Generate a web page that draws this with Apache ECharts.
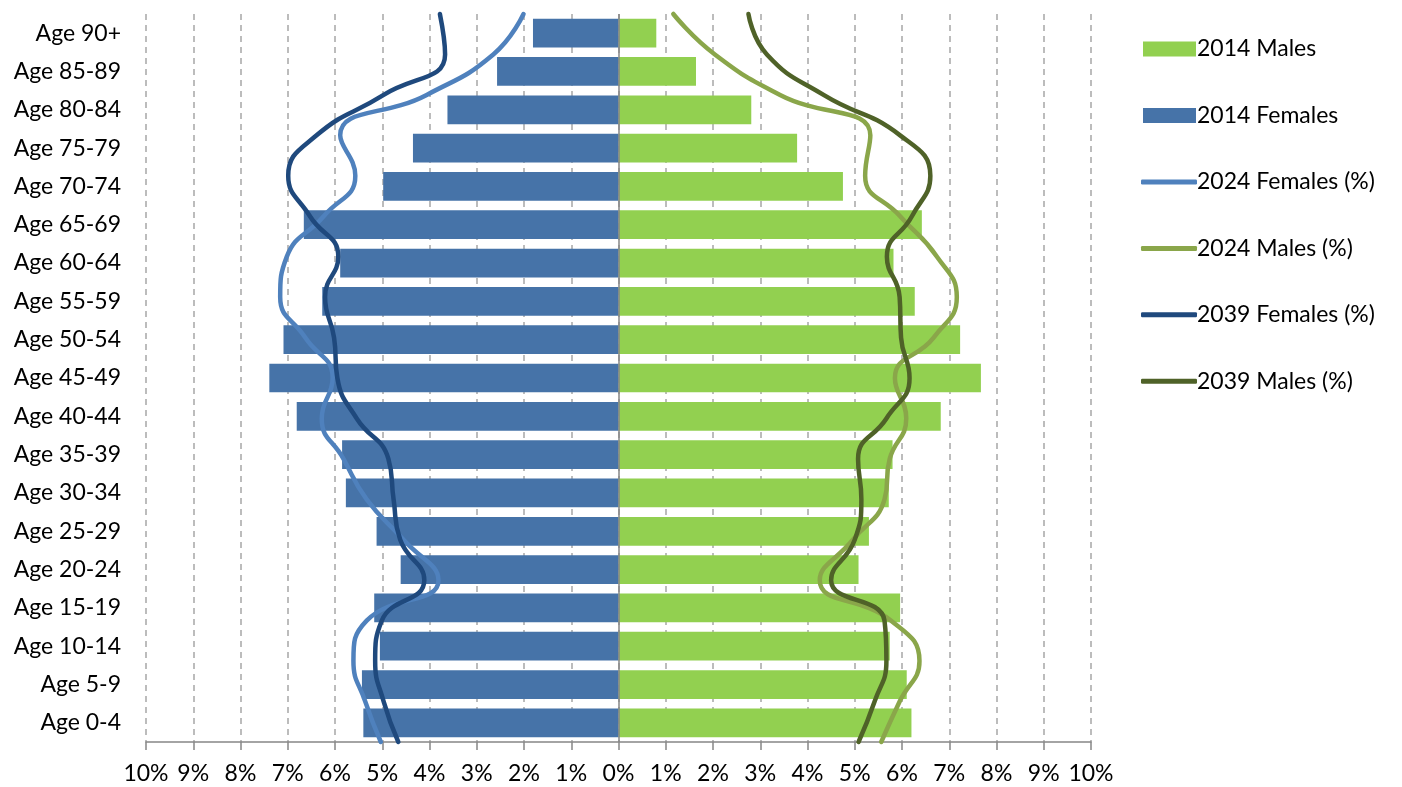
<!DOCTYPE html>
<html>
<head>
<meta charset="utf-8">
<script src="https://cdn.jsdelivr.net/npm/echarts@6/dist/echarts.min.js"></script>
<style>
html,body{margin:0;padding:0;background:#fff;}
#chart{width:1402px;height:787px;}
</style>
</head>
<body>
<div id="chart"></div>
<script>
const categories = ['Age 0-4','Age 5-9','Age 10-14','Age 15-19','Age 20-24','Age 25-29','Age 30-34','Age 35-39','Age 40-44','Age 45-49','Age 50-54','Age 55-59','Age 60-64','Age 65-69','Age 70-74','Age 75-79','Age 80-84','Age 85-89','Age 90+'];
const males2014 = [6.20, 6.10, 5.74, 5.96, 5.08, 5.30, 5.72, 5.80, 6.82, 7.67, 7.23, 6.27, 5.82, 6.42, 4.75, 3.78, 2.81, 1.64, 0.80];
const females2014 = [5.40, 5.43, 5.05, 5.17, 4.61, 5.12, 5.77, 5.85, 6.81, 7.39, 7.09, 6.27, 5.89, 6.66, 4.98, 4.35, 3.62, 2.57, 1.81];
const females2024 = [5.03, 5.36, 5.61, 5.33, 3.81, 4.55, 5.33, 5.82, 6.28, 6.05, 6.63, 7.16, 7.02, 6.24, 5.57, 5.89, 4.06, 2.65, 2.01];
const males2024 = [5.56, 5.95, 6.37, 5.77, 4.26, 4.96, 5.63, 5.74, 6.09, 5.85, 6.67, 7.16, 6.74, 5.96, 5.22, 5.33, 3.42, 2.04, 1.16];
const females2039 = [4.66, 4.97, 5.15, 5.01, 4.11, 4.62, 4.76, 4.87, 5.54, 5.95, 6.02, 6.21, 5.93, 6.53, 6.99, 6.39, 4.97, 3.67, 3.78];
const males2039 = [5.08, 5.42, 5.67, 5.63, 4.50, 5.00, 5.14, 5.07, 5.67, 6.16, 5.98, 5.95, 5.68, 6.21, 6.60, 5.96, 4.34, 3.14, 2.75];

const FONT = 'Lato';
const chart = echarts.init(document.getElementById('chart'), null, {renderer: 'canvas'});

function linePoints(arr, sign) {
  return arr.map((v, i) => [sign * v, i]);
}
function lineSeries(name, arr, sign, color) {
  return {
    name: name, type: 'line', xAxisIndex: 0, yAxisIndex: 1,
    data: linePoints(arr, sign), smooth: 0.5, symbol: 'none', showSymbol: false,
    lineStyle: {color: color, width: 4.5, cap: 'round'},
    itemStyle: {color: color},
    z: 5, clip: false
  };
}

const option = {
  backgroundColor: '#ffffff',
  animation: false,
  grid: {left: 146, right: 311, top: 14, bottom: 45, containLabel: false},
  legend: [
    {
      orient: 'vertical', left: 1138, top: 32,
      itemWidth: 53, itemHeight: 15, itemGap: 42.4,
      icon: 'rect',
      data: ['2014 Males', '2014 Females'],
      textStyle: {fontFamily: FONT, fontSize: 23, color: '#000', lineHeight: 24, padding: [0, 0, 0, -4]}
    },
    {
      orient: 'vertical', left: 1136, top: 165,
      itemWidth: 56, itemHeight: 5, itemGap: 42.4,
      icon: 'roundRect',
      data: ['2024 Females (%)', '2024 Males (%)', '2039 Females (%)', '2039 Males (%)'],
      textStyle: {fontFamily: FONT, fontSize: 23, color: '#000', lineHeight: 24, padding: [0, 0, 0, -5]}
    }
  ],
  xAxis: {
    type: 'value', min: -10, max: 10, interval: 1,
    axisLine: {show: true, lineStyle: {color: '#868686', width: 1.5}},
    axisTick: {show: true, length: 8, lineStyle: {color: '#868686', width: 1.5}},
    axisLabel: {
      fontFamily: FONT, fontSize: 23, color: '#000', margin: 20,
      formatter: v => Math.abs(v) + '%'
    },
    splitLine: {show: true, lineStyle: {color: '#a6a6a6', width: 1.5, type: [6, 5]}}
  },
  yAxis: [
    {
      type: 'category', data: categories,
      axisLine: {show: false}, axisTick: {show: false},
      axisLabel: {fontFamily: FONT, fontSize: 23, color: '#000', margin: 25}
    },
    {
      type: 'value', min: 0, max: 18, show: false
    }
  ],
  series: [
    {
      name: '2014 Males', type: 'bar', yAxisIndex: 0, data: males2014,
      barCategoryGap: '25%', barGap: '-100%',
      itemStyle: {color: '#92d050'}, z: 2
    },
    {
      name: '2014 Females', type: 'bar', yAxisIndex: 0, data: females2014.map(v => -v),
      barCategoryGap: '25%', barGap: '-100%',
      itemStyle: {color: '#4673a8'}, z: 2,
      markLine: {
        silent: true, symbol: 'none', label: {show: false},
        lineStyle: {color: '#868686', width: 1.5, type: 'solid'},
        data: [{xAxis: 0}], z: 3
      }
    },
    lineSeries('2024 Females (%)', females2024, -1, '#4f81bd'),
    lineSeries('2024 Males (%)', males2024, 1, '#8aa64a'),
    lineSeries('2039 Females (%)', females2039, -1, '#1f497d'),
    lineSeries('2039 Males (%)', males2039, 1, '#4f6228')
  ]
};
chart.setOption(option);
</script>
</body>
</html>
